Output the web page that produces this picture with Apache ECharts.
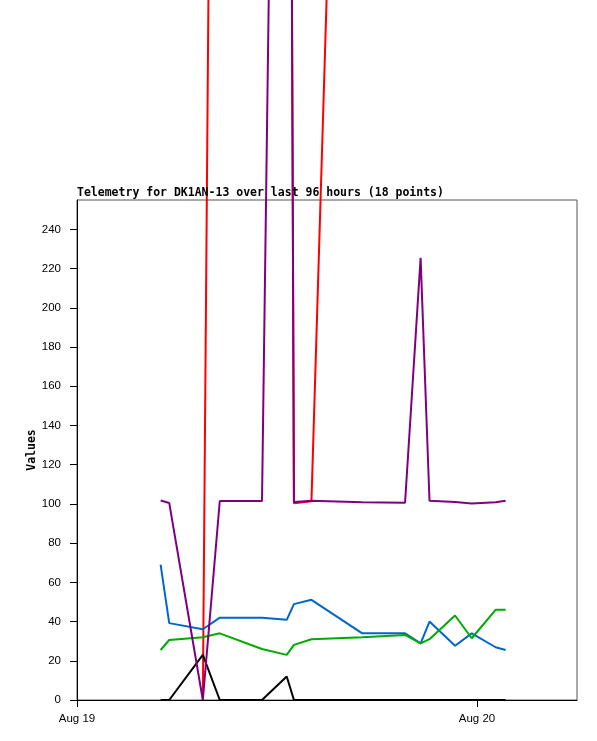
<!DOCTYPE html>
<html>
<head>
<meta charset="utf-8">
<script src="https://cdn.jsdelivr.net/npm/echarts@6/dist/echarts.min.js"></script>
<style>
  html, body { margin: 0; padding: 0; background: #fff; }
  #chart { width: 597px; height: 741px; }
</style>
</head>
<body>
<div id="chart"></div>
<script>
// sample times (UTC)
var times = [
  '2024-08-19T05:01Z', '2024-08-19T05:32Z', '2024-08-19T07:33Z', '2024-08-19T08:34Z',
  '2024-08-19T11:06Z', '2024-08-19T12:35Z', '2024-08-19T13:01Z', '2024-08-19T14:04Z',
  '2024-08-19T17:07Z', '2024-08-19T19:41Z', '2024-08-19T20:37Z', '2024-08-19T21:09Z',
  '2024-08-19T22:41Z', '2024-08-19T23:41Z', '2024-08-20T01:07Z', '2024-08-20T01:43Z'
];
// telemetry channels (red and purple run far above the plot)
var redVals    = [null, null, 0, 1085, 1060, 1030, 100.4, 101.3, 960, 990, 1000, 1010, 1000, 990, 1000, 1000];
var purpleVals = [101.7, 100.5, 0, 101.5, 101.5, 1040, 101.0, 101.6, 100.8, 100.6, 225.5, 101.6, 101.0, 100.2, 100.8, 101.6];
var blueVals   = [69.0, 39.2, 36.1, 42.0, 42.0, 40.9, 48.9, 51.1, 34.0, 34.0, 28.9, 40.0, 27.7, 34.0, 26.9, 25.5];
var greenVals  = [25.5, 30.6, 32.0, 34.0, 26.0, 23.0, 28.1, 31.0, 32.0, 33.2, 28.9, 31.0, 43.1, 31.5, 46.0, 46.0];
var blackVals  = [0, 0, 23.0, 0, 0, 12.0, 0, 0, 0, 0, 0, 0, 0, 0, 0, 0];

var yTicks = [0, 20, 40, 60, 80, 100, 120, 140, 160, 180, 200, 220, 240];
var dayTicks = ['2024-08-19T00:00Z', '2024-08-20T00:00Z'];
var monthNames = ['Jan', 'Feb', 'Mar', 'Apr', 'May', 'Jun', 'Jul', 'Aug', 'Sep', 'Oct', 'Nov', 'Dec'];

var DAY = 86400000;
var xMin = Date.parse(dayTicks[0]);
var xMax = xMin + 30 * 3600000;
var xTickVals = dayTicks.map(function (d) { return Date.parse(d); });

function pairs(vals) {
  return vals.map(function (v, i) { return [Date.parse(times[i]), v]; });
}

function lineSeries(name, color, vals) {
  return {
    name: name,
    type: 'line',
    data: pairs(vals),
    clip: false,
    symbol: 'none',
    animation: false,
    lineStyle: { color: color, width: 2 }
  };
}

var monoFont = '"DejaVu Sans Mono", "Liberation Mono", monospace';
var labelFont = '"Liberation Sans", Arial, sans-serif';

var chart = echarts.init(document.getElementById('chart'));
chart.setOption({
  backgroundColor: '#fff',
  animation: false,
  title: {
    text: 'Telemetry for DK1AN-13 over last 96 hours (18 points)',
    left: 77,
    top: 187,
    padding: 0,
    textStyle: { fontFamily: monoFont, fontWeight: 'bold', fontSize: 11.5, color: '#000' }
  },
  grid: {
    left: 77, top: 200, width: 500, height: 500,
    show: true, borderColor: '#555', borderWidth: 1, backgroundColor: 'transparent'
  },
  xAxis: {
    type: 'value',
    min: xMin,
    max: xMax,
    interval: DAY,
    splitLine: { show: false },
    axisLine: { lineStyle: { color: '#000', width: 1 } },
    axisTick: { length: 7, lineStyle: { color: '#000' }, customValues: xTickVals },
    axisLabel: {
      customValues: xTickVals,
      margin: 13,
      fontFamily: labelFont, fontSize: 11.5, color: '#000',
      formatter: function (v) {
        var d = new Date(v);
        return monthNames[d.getUTCMonth()] + ' ' + d.getUTCDate();
      }
    }
  },
  yAxis: {
    type: 'value',
    min: 0,
    max: 255,
    interval: 20,
    name: 'Values',
    nameLocation: 'middle',
    nameGap: 39,
    nameRotate: 90,
    nameMoveOverlap: false,
    nameTextStyle: { fontFamily: monoFont, fontWeight: 'bold', fontSize: 11.5, color: '#000' },
    splitLine: { show: false },
    axisLine: { show: true, lineStyle: { color: '#000', width: 1 } },
    axisTick: { show: true, length: 7, lineStyle: { color: '#000' }, customValues: yTicks },
    axisLabel: { customValues: yTicks, margin: 16, fontFamily: labelFont, fontSize: 11.5, color: '#000' }
  },
  series: [
    lineSeries('red', '#ff0000', redVals),
    lineSeries('blue', '#0066cc', blueVals),
    lineSeries('green', '#00aa00', greenVals),
    lineSeries('black', '#000000', blackVals),
    lineSeries('purple', '#7f007f', purpleVals)
  ]
});
</script>
</body>
</html>
